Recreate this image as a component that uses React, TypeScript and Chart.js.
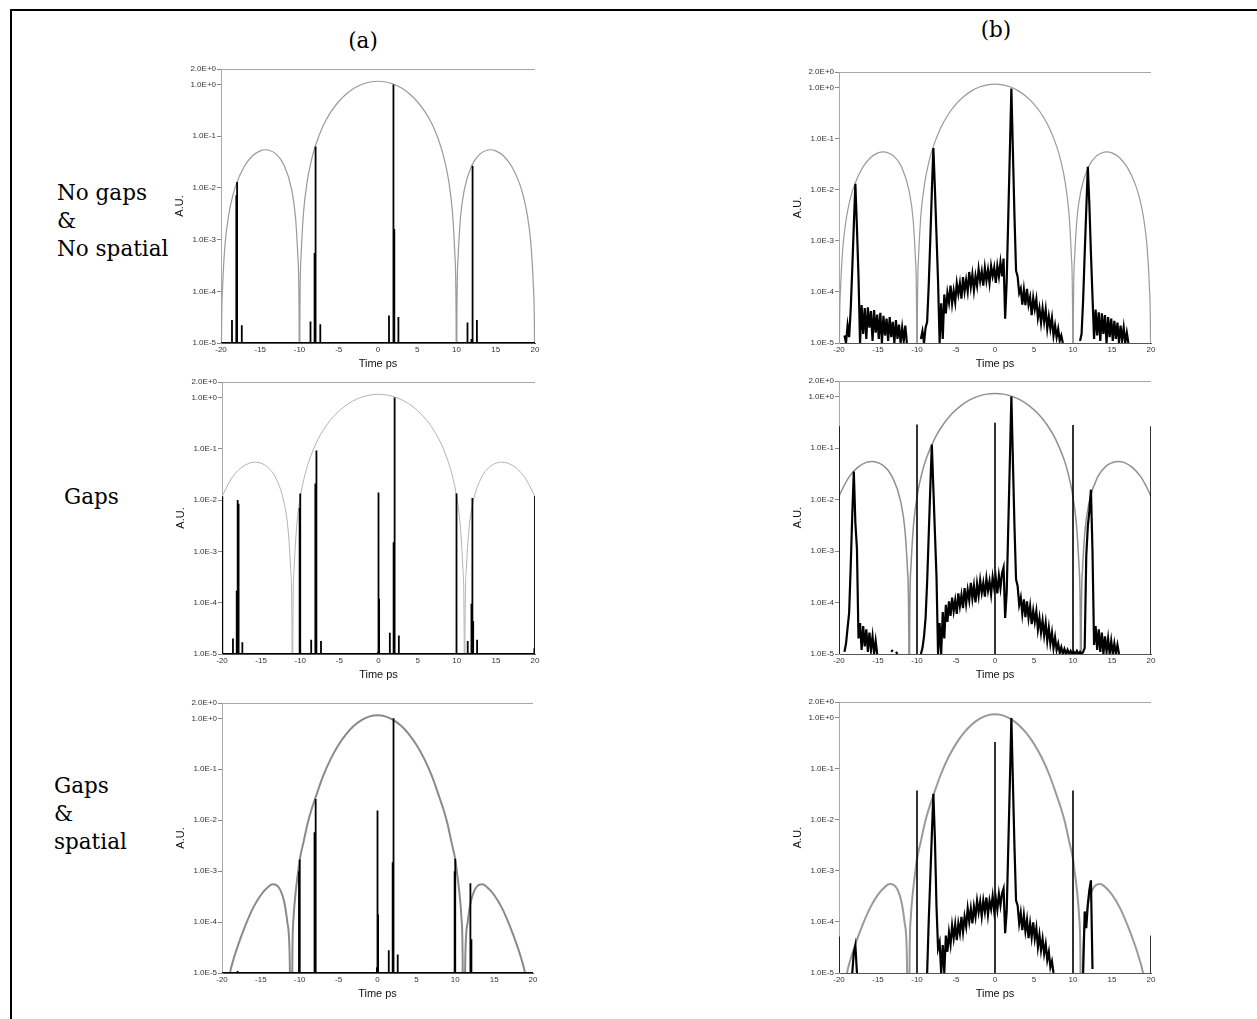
import React, { useEffect, useRef } from 'react';
import { Chart, registerables } from 'chart.js';

Chart.register(...registerables);

// ---------- axis values ----------
const xMin = -20;
const xMax = 20;
const xTickStep = 5;
const yMin = 1e-5;
const yMax = 2;
const yTickValues = [1e-5, 1e-4, 1e-3, 1e-2, 1e-1, 1, 2];
const FLOOR = 1e-5;

// ---------- grey envelopes (time ps, A.U.) ----------
const env1T = [-20, -19.95, -19.8, -19.5, -19, -18.5, -18, -17, -16, -15, -14.3, -14, -13, -12, -11, -10.5, -10.2, -10.05, -10,
  -9.95, -9.8, -9.5, -9, -8.5, -8, -7, -6, -5, -4, -3, -2, -1, 0,
  1, 2, 3, 4, 5, 6, 7, 8, 8.5, 9, 9.5, 9.8, 9.95, 10,
  10.05, 10.2, 10.5, 11, 12, 13, 14, 14.3, 15, 16, 17, 18, 18.5, 19, 19.5, 19.8, 19.95, 20];
const env1V = [1e-8, 7.3e-6, 1.18e-4, 7.56e-4, 3.11e-3, 7.08e-3, 1.253e-2, 2.662e-2, 4.153e-2, 5.224e-2, 5.474e-2, 5.424e-2, 4.552e-2, 2.82e-2, 9.28e-3, 2.61e-3, 4.45e-4, 2.87e-5, 1e-8,
  2.93e-5, 4.83e-4, 3.19e-3, 1.386e-2, 3.353e-2, 6.345e-2, 0.157, 0.2953, 0.4701, 0.6644, 0.8547, 1.0152, 1.1223, 1.16,
  1.1223, 1.0152, 0.8547, 0.6644, 0.4701, 0.2953, 0.157, 6.345e-2, 3.353e-2, 1.386e-2, 3.19e-3, 4.83e-4, 2.93e-5, 1e-8,
  2.87e-5, 4.45e-4, 2.61e-3, 9.28e-3, 2.82e-2, 4.552e-2, 5.424e-2, 5.474e-2, 5.224e-2, 4.153e-2, 2.662e-2, 1.253e-2, 7.08e-3, 3.11e-3, 7.56e-4, 1.18e-4, 7.3e-6, 1e-8];

const env2T = [-20, -19.8, -18.7, -17.6, -16.5, -15.73, -15.4, -14.3, -13.2, -12.1, -11.55, -11.22, -11.055, -11,
  -10.945, -10.78, -10.45, -9.9, -9.35, -8.8, -7.7, -6.6, -5.5, -4.4, -3.3, -2.2, -1.1, 0,
  1.1, 2.2, 3.3, 4.4, 5.5, 6.6, 7.7, 8.8, 9.35, 9.9, 10.45, 10.78, 10.945, 11,
  11.055, 11.22, 11.55, 12.1, 13.2, 14.3, 15.4, 15.73, 16.5, 17.6, 18.7, 19.8, 20];
const env2V = [1.15e-2, 1.35e-2, 2.75e-2, 4.2e-2, 5.25e-2, 5.48e-2, 5.43e-2, 4.55e-2, 2.82e-2, 9.3e-3, 2.6e-3, 4.4e-4, 2.85e-5, 1e-8,
  2.9e-5, 4.8e-4, 3.16e-3, 1.374e-2, 3.324e-2, 6.29e-2, 0.1556, 0.2928, 0.4661, 0.6587, 0.8474, 1.0064, 1.1127, 1.15,
  1.1127, 1.0064, 0.8474, 0.6587, 0.4661, 0.2928, 0.1556, 6.29e-2, 3.324e-2, 1.374e-2, 3.16e-3, 4.8e-4, 2.9e-5, 1e-8,
  2.85e-5, 4.4e-4, 2.6e-3, 9.3e-3, 2.82e-2, 4.55e-2, 5.43e-2, 5.48e-2, 5.25e-2, 4.2e-2, 2.75e-2, 1.35e-2, 1.15e-2];

const env3T = [-19.3, -19, -18.5, -18, -17, -16, -15, -14, -13.5, -13, -12.5, -12, -11.6, -11.3, -11.05,
  -10.95, -10.8, -10.5, -10.2, -10, -9.5, -9, -8.5, -8, -7, -6, -5, -4, -3, -2, -1, 0,
  1, 2, 3, 4, 5, 6, 7, 8, 8.5, 9, 9.5, 10, 10.2, 10.5, 10.8, 10.95,
  11.05, 11.3, 11.6, 12, 12.5, 13, 13.5, 14, 15, 16, 17, 18, 18.5, 19, 19.3];
const env3V = [4e-6, 9.5e-6, 1.9e-5, 3.3e-5, 8.5e-5, 1.9e-4, 3.4e-4, 5.0e-4, 5.5e-4, 5.3e-4, 4.3e-4, 2.5e-4, 1.0e-4, 2.2e-5, 1e-8,
  2e-5, 1.2e-4, 4.2e-4, 1.0e-3, 1.7e-3, 3.8e-3, 8.5e-3, 1.6e-2, 2.7e-2, 7.3e-2, 0.162, 0.303, 0.497, 0.721, 0.936, 1.093, 1.15,
  1.093, 0.936, 0.721, 0.497, 0.303, 0.162, 7.3e-2, 2.7e-2, 1.6e-2, 8.5e-3, 3.8e-3, 1.7e-3, 1.0e-3, 4.2e-4, 1.2e-4, 2e-5,
  1e-8, 2.2e-5, 1.0e-4, 2.5e-4, 4.3e-4, 5.3e-4, 5.5e-4, 5.0e-4, 3.4e-4, 1.9e-4, 8.5e-5, 3.3e-5, 1.9e-5, 9.5e-6, 4e-6];

// ---------- (a) column: sampled pulses ----------
const spikesA1X = [-18.6, -18.05, -17.95, -17.35, -8.6, -8.08, -8.0, -7.92, -7.35, 1.4, 1.92, 2.0, 2.08, 2.6, 11.4, 11.9, 12.0, 12.08, 12.6];
const spikesA1Y = [2.8e-5, 7.2e-3, 1.3e-2, 2.2e-5, 2.6e-5, 5.5e-4, 6.3e-2, 3.8e-5, 2.3e-5, 3.4e-5, 8.6e-4, 1.0, 1.6e-3, 3.2e-5, 2.5e-5, 1.2e-5, 2.7e-2, 8.6e-4, 2.8e-5];

const spikesA2X = [-20, -19.92, -18.6, -18.12, -18.0, -17.92, -17.85, -17.4, -10.08, -10.0, -8.6, -8.1, -8.05, -7.98, -7.9, -7.35,
  -0.08, 0.0, 0.08, 1.45, 1.9, 1.95, 2.0, 2.1, 2.6, 9.92, 10.0, 11.4, 11.88, 12.0, 12.1, 12.6, 19.92, 20];
const spikesA2Y = [1.19e-2, 1.6e-4, 2.0e-5, 1.7e-4, 1.0e-2, 8.5e-3, 2.7e-5, 1.7e-5, 7e-3, 1.34e-2, 1.9e-5, 3.7e-5, 2.1e-2, 9.2e-2, 1.3e-4, 1.8e-5,
  1.1e-5, 1.4e-2, 1.2e-4, 2.6e-5, 1.4e-5, 1.5e-3, 1.0, 2.1e-3, 2.3e-5, 7.6e-3, 1.34e-2, 1.8e-5, 9.5e-5, 1.1e-2, 4.4e-5, 1.9e-5, 1.3e-5, 1.2e-2];

const spikesA3X = [-18.0, -10.1, -10.0, -8.1, -8.0, -7.92, -0.08, 0.0, 0.08, 1.45, 1.95, 2.0, 2.1, 2.6, 9.92, 10.0, 11.95, 12.08];
const spikesA3Y = [1.1e-5, 1.0e-3, 1.7e-3, 5.8e-3, 2.6e-2, 3.8e-5, 1.3e-5, 1.55e-2, 1.4e-4, 2.8e-5, 1.5e-3, 1.0, 2.2e-3, 2.3e-5, 1.0e-3, 1.75e-3, 5.8e-4, 4.6e-5];

// ---------- (b) column: measured traces, sampled from -19.9 ps every 0.2 ps ----------
const traceStart = -19.9;
const traceStep = 0.2;

const trace1 = [
  null, null, null, 1.4e-5, 1.0e-5, 2.2e-5, 1.3e-5, 4.5e-5, 2.8e-4, 2.0e-3,
  1.3e-2, 1.8e-3, 2.0e-4, 1.0e-5, 5.5e-5, 1.5e-5, 4.8e-5, 1.2e-5, 5.0e-5, 2.0e-5,
  4.2e-5, 1.1e-5, 4.4e-5, 1.6e-5, 3.6e-5, 1.2e-5, 3.9e-5, 1.0e-5, 3.4e-5, 1.4e-5,
  3.0e-5, 1.1e-5, 3.2e-5, 1.3e-5, 2.6e-5, 1.0e-5, 2.8e-5, 1.2e-5, 2.3e-5, 1.0e-5,
  2.0e-5, 1.1e-5, 2.2e-5, 1.0e-5, null, null, null, null, null, null,
  null, null, 1.2e-5, 1.7e-5, 1.0e-5, 2.0e-5, 2.6e-5, 1.3e-4, 1.0e-3, 9.0e-3,
  6.5e-2, 1.0e-2, 1.3e-3, 1.6e-4, 1.0e-5, 6.0e-5, 1.2e-5, 8.9e-5, 3.8e-5, 9.5e-5,
  6.2e-5, 1.32e-4, 5.9e-5, 1.05e-4, 6.3e-5, 1.48e-4, 9.1e-5, 1.48e-4, 7.4e-5, 1.95e-4,
  1.02e-4, 1.7e-4, 1.02e-4, 2.45e-4, 1.26e-4, 2.2e-4, 1.07e-4, 2.04e-4, 1.32e-4, 2.8e-4,
  1.62e-4, 2.5e-4, 1.32e-4, 2.95e-4, 1.66e-4, 2.7e-4, 1.48e-4, 3.2e-4, 2.04e-4, 3.0e-4,
  1.5e-4, 3.2e-4, 2.0e-4, 3.8e-4, 2.0e-4, 4.5e-4, 3.0e-5, 1.6e-4, 2.9e-3, 5.2e-2,
  9.5e-1, 5.2e-2, 2.9e-3, 2.6e-4, 2.0e-4, 9.5e-5, 1.17e-4, 5.6e-5, 1.1e-4, 5.5e-5,
  1.15e-4, 5.6e-5, 7.9e-5, 3.5e-5, 7.6e-5, 4.6e-5, 7.2e-5, 3.1e-5, 4.8e-5, 2.5e-5,
  4.8e-5, 2.6e-5, 4.5e-5, 1.9e-5, 3.3e-5, 1.9e-5, 3.1e-5, 1.4e-5, 2.2e-5, 1.3e-5,
  1.9e-5, 1.1e-5, 1.4e-5, 1.0e-5, null, null, null, null, null, null,
  null, null, null, null, 1.1e-5, 1.5e-5, 7.0e-5, 5.6e-4, 4.0e-3, 2.8e-2,
  5.0e-3, 5.6e-4, 8.0e-5, 1.2e-5, 4.5e-5, 1.4e-5, 4.0e-5, 1.1e-5, 3.8e-5, 1.5e-5,
  3.5e-5, 1.0e-5, 3.2e-5, 1.3e-5, 3.0e-5, 1.1e-5, 2.7e-5, 1.2e-5, 2.5e-5, 1.0e-5,
  2.2e-5, 1.1e-5, 2.0e-5, 1.0e-5, 1.6e-5, 1.0e-5, null, null, null, null,
  null, null, null, null, null, null, null, null, null, null,
];

const trace2 = [
  null, null, null, 1.1e-5, 1.6e-5, 3.2e-5, 6.3e-5, 5.0e-4, 5.0e-3, 3.5e-2,
  3.5e-3, 1.1e-3, 2.0e-5, 4.0e-5, 1.2e-5, 3.5e-5, 1.4e-5, 3.0e-5, 1.1e-5, 2.6e-5,
  1.2e-5, 2.2e-5, 1.0e-5, 1.8e-5, 1.0e-5, null, null, null, null, null,
  null, null, null, 1.1e-5, 1.2e-5, null, 1.1e-5, 1.0e-5, null, null,
  null, null, null, null, null, null, null, null, null, null,
  null, null, 1.0e-5, 1.3e-5, 2.2e-5, 5.0e-5, 2.5e-4, 2.0e-3, 1.6e-2, 1.17e-1,
  1.6e-2, 2.2e-3, 3.2e-4, 1.0e-5, 4.0e-5, 1.0e-5, 6.5e-5, 2.0e-5, 9.0e-5, 4.2e-5,
  1.05e-4, 5.5e-5, 1.25e-4, 6.8e-5, 1.1e-4, 6.0e-5, 1.5e-4, 8.5e-5, 1.4e-4, 7.8e-5,
  1.9e-4, 9.5e-5, 1.75e-4, 1.1e-4, 2.4e-4, 1.2e-4, 2.1e-4, 1.0e-4, 2.3e-4, 1.35e-4,
  2.7e-4, 1.55e-4, 2.4e-4, 1.3e-4, 2.9e-4, 1.7e-4, 2.6e-4, 1.45e-4, 3.1e-4, 1.9e-4,
  3.0e-4, 1.5e-4, 3.3e-4, 1.9e-4, 3.7e-4, 4.8e-4, 5.0e-5, 1.6e-4, 2.9e-3, 5.2e-2,
  1.0, 5.2e-2, 2.9e-3, 2.8e-4, 2.1e-4, 9.0e-5, 1.25e-4, 6.0e-5, 1.15e-4, 5.2e-5,
  1.05e-4, 5.0e-5, 8.5e-5, 3.8e-5, 7.0e-5, 4.2e-5, 6.8e-5, 3.0e-5, 5.0e-5, 2.6e-5,
  4.5e-5, 2.3e-5, 4.0e-5, 1.8e-5, 3.2e-5, 1.6e-5, 2.6e-5, 1.3e-5, 2.1e-5, 1.2e-5,
  1.6e-5, 1.05e-5, 1.35e-5, 1.0e-5, 1.25e-5, 1.0e-5, 1.2e-5, 1.0e-5, 1.15e-5, 1.0e-5,
  1.1e-5, 1.0e-5, 1.15e-5, 1.0e-5, 1.1e-5, 1.0e-5, 1.1e-5, 1.3e-5, 8.0e-4, 3.0e-3,
  6.0e-3, 1.55e-2, 1.0e-3, 1.5e-5, 3.5e-5, 1.2e-5, 3.0e-5, 1.1e-5, 2.6e-5, 1.0e-5,
  2.2e-5, 1.1e-5, 2.0e-5, 1.0e-5, 1.8e-5, 1.0e-5, 1.6e-5, 1.0e-5, 1.5e-5, 1.0e-5,
  null, null, null, null, null, null, null, null, null, null,
  null, null, null, null, null, null, null, null, null, null,
];

const trace3 = [
  null, null, null, null, null, null, null, null, 1.0e-5, 2.5e-5,
  3.5e-5, 1.0e-5, null, null, null, null, null, null, null, null,
  null, null, null, null, null, null, null, null, null, null,
  null, null, null, null, null, null, null, null, null, null,
  null, null, null, null, null, null, null, null, null, null,
  null, null, null, null, null, null, 1.0e-5, 1.0e-4, 7.0e-4, 5.0e-3,
  3.2e-2, 4.0e-3, 2.0e-4, 3.0e-5, 4.0e-5, 1.0e-5, 3.5e-5, 1.0e-5, 5.4e-5, 2.6e-5,
  6.2e-5, 3.6e-5, 8.5e-5, 4.8e-5, 8.9e-5, 4.4e-5, 9.3e-5, 6.0e-5, 1.26e-4, 6.3e-5,
  1.26e-4, 8.1e-5, 1.82e-4, 1.02e-4, 1.82e-4, 9.3e-5, 2.0e-4, 1.26e-4, 2.6e-4, 1.55e-4,
  2.5e-4, 1.29e-4, 2.6e-4, 1.58e-4, 3.0e-4, 1.38e-4, 2.6e-4, 1.78e-4, 3.2e-4, 1.62e-4,
  2.95e-4, 1.74e-4, 3.5e-4, 2.1e-4, 3.6e-4, 4.5e-4, 6.0e-5, 1.6e-4, 2.8e-3, 5.0e-2,
  9.7e-1, 5.0e-2, 2.8e-3, 2.6e-4, 2.1e-4, 9.3e-5, 1.5e-4, 6.9e-5, 1.35e-4, 6.6e-5,
  1.1e-4, 4.8e-5, 9.3e-5, 5.0e-5, 9.8e-5, 4.7e-5, 7.6e-5, 3.2e-5, 5.6e-5, 2.8e-5,
  4.7e-5, 2.4e-5, 3.7e-5, 1.8e-5, 2.6e-5, 1.3e-5, 1.7e-5, 1.0e-5, null, null,
  null, null, null, null, null, null, null, null, null, null,
  null, null, null, null, null, null, 1.0e-5, 1.6e-4, 7.5e-5, 2.2e-4,
  4.2e-4, 6.5e-4, 1.2e-5, null, null, null, null, null, null, null,
  null, null, null, null, null, null, null, null, null, null,
  null, null, null, null, null, null, null, null, null, null,
  null, null, null, null, null, null, null, null, null, null,
];

// isolated reference spikes in (b)
const spikesB2X = [-20, -10, 0, 10, 20];
const spikesB2Y = [0.265, 0.285, 0.31, 0.28, 0.265];
const spikesB3X = [-20, -10, 0, 10, 20];
const spikesB3Y = [5.2e-5, 3.7e-2, 0.33, 3.7e-2, 5.4e-5];

// ---------- layout ----------
const Y_AXIS_W = 61;
const PAD_T = 14;
const PAD_R = 16;
const X_AXIS_H = 30;

type PanelCfg = {
  key: string;
  l: number; r: number; t: number; b: number;
  envT: number[]; envV: number[]; envColor: string; envWidth: number;
  spikesX?: number[]; spikesY?: number[]; baseline: boolean;
  trace?: (number | null)[];
};

const panels: PanelCfg[] = [
  { key: 'a1', l: 221, r: 535, t: 69, b: 343, envT: env1T, envV: env1V, envColor: '#9a9a9a', envWidth: 1.2, spikesX: spikesA1X, spikesY: spikesA1Y, baseline: true },
  { key: 'b1', l: 839, r: 1151, t: 72, b: 343, envT: env1T, envV: env1V, envColor: '#9a9a9a', envWidth: 1.2, baseline: false, trace: trace1 },
  { key: 'a2', l: 222, r: 535, t: 382, b: 654, envT: env2T, envV: env2V, envColor: '#b2b2b2', envWidth: 1, spikesX: spikesA2X, spikesY: spikesA2Y, baseline: true },
  { key: 'b2', l: 839, r: 1151, t: 381, b: 654, envT: env2T, envV: env2V, envColor: '#909090', envWidth: 1.5, spikesX: spikesB2X, spikesY: spikesB2Y, baseline: false, trace: trace2 },
  { key: 'a3', l: 222, r: 533, t: 703, b: 973, envT: env3T, envV: env3V, envColor: '#8a8a8a', envWidth: 2, spikesX: spikesA3X, spikesY: spikesA3Y, baseline: true },
  { key: 'b3', l: 839, r: 1151, t: 702, b: 973, envT: env3T, envV: env3V, envColor: '#9a9a9a', envWidth: 2, spikesX: spikesB3X, spikesY: spikesB3Y, baseline: false, trace: trace3 },
];

const SANS = "'Liberation Sans', Arial, sans-serif";

function spikeData(xs: number[], ys: number[], baseline: boolean) {
  const pts: { x: number; y: number | null }[] = [];
  if (baseline) pts.push({ x: xMin, y: FLOOR });
  xs.forEach((x, i) => {
    pts.push({ x, y: FLOOR }, { x, y: ys[i] }, { x, y: FLOOR });
    if (!baseline) pts.push({ x, y: null });
  });
  if (baseline) pts.push({ x: xMax, y: FLOOR });
  return pts;
}

function traceData(vals: (number | null)[]) {
  return vals.map((v, i) => ({ x: Math.round((traceStart + i * traceStep) * 10) / 10, y: v }));
}

function Panel({ cfg }: { cfg: PanelCfg }) {
  const ref = useRef<HTMLCanvasElement | null>(null);
  const w = cfg.r - cfg.l + Y_AXIS_W + PAD_R;
  const h = cfg.b - cfg.t + PAD_T + X_AXIS_H;

  useEffect(() => {
    if (!ref.current) return;
    const datasets: any[] = [];
    if (cfg.trace) {
      datasets.push({
        data: traceData(cfg.trace), borderColor: '#000', borderWidth: 2.2,
        pointRadius: 0, spanGaps: false, tension: 0,
      });
    }
    if (cfg.spikesX && cfg.spikesY) {
      datasets.push({
        data: spikeData(cfg.spikesX, cfg.spikesY, cfg.baseline), borderColor: '#000',
        borderWidth: cfg.baseline ? 1.8 : 1.6, pointRadius: 0, spanGaps: false, tension: 0,
      });
    }
    datasets.push({
      data: cfg.envT.map((t, i) => ({ x: t, y: cfg.envV[i] })),
      borderColor: cfg.envColor, borderWidth: cfg.envWidth, pointRadius: 0,
      cubicInterpolationMode: 'monotone',
    });

    const chart = new Chart(ref.current, {
      type: 'line',
      data: { datasets },
      options: {
        responsive: false,
        animation: false,
        events: [],
        layout: { padding: { left: 0, top: PAD_T, right: PAD_R, bottom: 0 } },
        plugins: { legend: { display: false }, tooltip: { enabled: false } },
        elements: { point: { radius: 0 } },
        scales: {
          x: {
            type: 'linear', min: xMin, max: xMax,
            ticks: { stepSize: xTickStep, padding: 2, color: '#333', font: { family: SANS, size: 8 }, maxRotation: 0, autoSkip: false },
            grid: { display: false, drawTicks: false },
            border: { display: true, color: '#555', width: 1 },
            title: { display: true, text: 'Time ps', color: '#111', font: { family: SANS, size: 11 }, padding: { top: 0, bottom: 2 } },
            afterFit: (s: any) => { s.height = X_AXIS_H; },
          },
          y: {
            type: 'logarithmic', min: yMin, max: yMax,
            afterBuildTicks: (s: any) => { s.ticks = yTickValues.map((v) => ({ value: v })); },
            ticks: {
              autoSkip: false, padding: 1, color: '#333', font: { family: SANS, size: 8 },
              callback: (v: any) => Number(v).toExponential(1).toUpperCase(),
            },
            grid: {
              display: true, drawOnChartArea: true, drawTicks: true, tickLength: 4,
              color: (c: any) => (c.tick && c.tick.value === yMax ? '#a8a8a8' : 'rgba(0,0,0,0)'),
              tickColor: '#888', lineWidth: 1,
            },
            border: { display: true, color: '#aaa', width: 1 },
            title: { display: true, text: 'A.U.', color: '#111', font: { family: SANS, size: 11 }, padding: { top: 13, bottom: 0 } },
            afterFit: (s: any) => { s.width = Y_AXIS_W; },
          },
        },
      } as any,
    });
    return () => chart.destroy();
  }, []);

  return (
    <canvas
      ref={ref}
      width={w}
      height={h}
      style={{ position: 'absolute', left: cfg.l - Y_AXIS_W, top: cfg.t - PAD_T, width: w, height: h }}
    />
  );
}

const SERIF = "'DejaVu Serif', 'Liberation Serif', serif";
const labelStyle: React.CSSProperties = {
  position: 'absolute', fontFamily: SERIF, fontSize: '21.5px', lineHeight: '28px', color: '#000', whiteSpace: 'nowrap',
};

const columnTitles = [
  { text: '(a)', cx: 363, top: 27 },
  { text: '(b)', cx: 996, top: 16 },
];
const rowLabels = [
  { lines: ['No gaps', '&', 'No spatial'], left: 57, top: 179 },
  { lines: ['Gaps'], left: 64, top: 483 },
  { lines: ['Gaps', '&', 'spatial'], left: 54, top: 772 },
];

export default function App() {
  return (
    <div style={{ position: 'absolute', left: 0, top: 0, width: 1257, height: 1019, background: '#fff', overflow: 'hidden' }}>
      <div style={{ position: 'absolute', left: 10, top: 9, right: -20, bottom: -20, borderTop: '2px solid #000', borderLeft: '2px solid #000' }} />
      {columnTitles.map((c) => (
        <div key={c.text} style={{ ...labelStyle, left: c.cx - 50, width: 100, textAlign: 'center', top: c.top }}>{c.text}</div>
      ))}
      {rowLabels.map((r, i) => (
        <div key={i} style={{ ...labelStyle, left: r.left, top: r.top }}>
          {r.lines.map((ln, j) => (<div key={j}>{ln}</div>))}
        </div>
      ))}
      {panels.map((p) => (<Panel key={p.key} cfg={p} />))}
    </div>
  );
}
